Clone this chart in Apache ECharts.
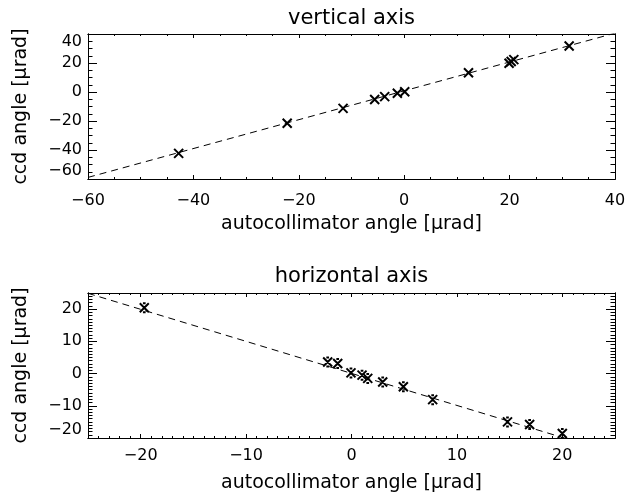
<!DOCTYPE html>
<html>
<head>
<meta charset="utf-8">
<script src="https://cdn.jsdelivr.net/npm/echarts@6/dist/echarts.min.js"></script>
<style>
html,body{margin:0;padding:0;background:#fff;}
#c{width:636px;height:496px;}
</style>
</head>
<body>
<div id="c"></div>
<script>
// ---- data ----
const topTitle = 'vertical axis';
const botTitle = 'horizontal axis';
const xName = 'autocollimator angle [\u03BCrad]';
const yName = 'ccd angle [\u03BCrad]';

const topX = [-42.8, -22.2, -11.6, -5.6, -3.7, -1.3, 0.1, 12.2, 19.9, 20.3, 20.8, 31.3];
const topY = [-42.3, -21.6, -11.3, -5.2, -3.2, -0.9, 0.2, 13.3, 19.8, 21.0, 22.3, 31.7];
const topFitX = [-60, 40];
const topFitY = [-58.9, 40.6];

const botX = [-19.66, -2.26, -1.31, -0.05, 1.0, 1.54, 2.96, 4.92, 7.7, 14.8, 16.9, 20.0];
const botY = [20.4, 3.6, 3.1, 0.2, -0.5, -1.5, -2.6, -4.1, -8.1, -15.0, -15.8, -18.6];
const botFitX = [-25, 25];
const botFitY = [24.9, -24.8];

const topXTicks = [-60, -40, -20, 0, 20, 40];
const topYTicks = [-60, -40, -20, 0, 20, 40];
const botXTicks = [-20, -10, 0, 10, 20];
const botYTicks = [-20, -10, 0, 10, 20];

// ---- layout ----
const FONT = 'DejaVu Sans';
const L = 88, W = 527, H = 145;
const TOP1 = 34, TOP2 = 293;

function pairs(xs, ys){ return xs.map((x,i)=>[x, ys[i]]); }
function fmt(v){ return v < 0 ? '\u2212' + (-v) : String(v); }

const grids = [
  {left:L, top:TOP1, width:W, height:H}, // 0 top major
  {left:L, top:TOP1, width:W, height:H}, // 1 top minor
  {left:L, top:TOP2, width:W, height:H}, // 2 bottom major
  {left:L, top:TOP2, width:W, height:H}  // 3 bottom minor
];

const lineCol = '#000';
function baseAxis(extra){
  return Object.assign({
    type:'value',
    axisLine:{show:true, onZero:false, lineStyle:{color:lineCol, width:1}},
    splitLine:{show:false},
    axisLabel:{show:false},
  }, extra);
}
const nameStyle = {color:'#000', fontFamily:FONT, fontSize:19};
const labStyle = {color:'#000', fontFamily:FONT, fontSize:16};

const xAxes = [];
const yAxes = [];
// top panel major
xAxes.push(baseAxis({gridIndex:0, position:'bottom', min:-60, max:40, interval:20,
  axisTick:{show:true, inside:true, length:4, lineStyle:{color:lineCol}},
  axisLabel:Object.assign({show:true, formatter:fmt, margin:14}, labStyle),
  name:xName, nameLocation:'middle', nameGap:36, nameTextStyle:nameStyle}));
xAxes.push(baseAxis({gridIndex:0, position:'top', min:-60, max:40, interval:20,
  axisTick:{show:true, inside:true, length:4, lineStyle:{color:lineCol}}}));
yAxes.push(baseAxis({gridIndex:0, position:'left', min:-60, max:40, interval:20,
  axisTick:{show:true, inside:true, length:9, lineStyle:{color:lineCol}},
  axisLabel:Object.assign({show:true, formatter:fmt, margin:6,
    verticalAlignMaxLabel:'top', verticalAlignMinLabel:'bottom'}, labStyle),
  name:yName, nameLocation:'middle', nameGap:57, nameTextStyle:nameStyle}));
yAxes.push(baseAxis({gridIndex:0, position:'right', min:-60, max:40, interval:20,
  axisTick:{show:true, inside:true, length:9, lineStyle:{color:lineCol}}}));
// top panel minor
xAxes.push(baseAxis({gridIndex:1, position:'bottom', min:-60, max:40, interval:5,
  axisTick:{show:true, inside:true, length:2, lineStyle:{color:lineCol}}}));
xAxes.push(baseAxis({gridIndex:1, position:'top', min:-60, max:40, interval:5,
  axisTick:{show:true, inside:true, length:2, lineStyle:{color:lineCol}}}));
yAxes.push(baseAxis({gridIndex:1, position:'left', min:-60, max:40, interval:5,
  axisTick:{show:true, inside:true, length:4.5, lineStyle:{color:lineCol}}}));
yAxes.push(baseAxis({gridIndex:1, position:'right', min:-60, max:40, interval:5,
  axisTick:{show:true, inside:true, length:4.5, lineStyle:{color:lineCol}}}));
// bottom panel major
xAxes.push(baseAxis({gridIndex:2, position:'bottom', min:-25, max:25, interval:5,
  axisTick:{show:true, inside:true, length:4, customValues:botXTicks, lineStyle:{color:lineCol}},
  axisLabel:Object.assign({show:true, formatter:fmt, customValues:botXTicks, margin:10}, labStyle),
  name:xName, nameLocation:'middle', nameGap:36, nameTextStyle:nameStyle}));
xAxes.push(baseAxis({gridIndex:2, position:'top', min:-25, max:25, interval:5,
  axisTick:{show:true, inside:true, length:4, customValues:botXTicks, lineStyle:{color:lineCol}}}));
yAxes.push(baseAxis({gridIndex:2, position:'left', min:-20, max:25, interval:5,
  axisTick:{show:true, inside:true, length:9, customValues:botYTicks, lineStyle:{color:lineCol}},
  axisLabel:Object.assign({show:true, formatter:fmt, customValues:botYTicks, margin:6,
    verticalAlignMinLabel:'bottom'}, labStyle),
  name:yName, nameLocation:'middle', nameGap:57, nameTextStyle:nameStyle}));
yAxes.push(baseAxis({gridIndex:2, position:'right', min:-20, max:25, interval:5,
  axisTick:{show:true, inside:true, length:9, customValues:botYTicks, lineStyle:{color:lineCol}}}));
// bottom panel minor
xAxes.push(baseAxis({gridIndex:3, position:'bottom', min:-25, max:25, interval:1,
  axisTick:{show:true, inside:true, length:2, lineStyle:{color:lineCol}}}));
xAxes.push(baseAxis({gridIndex:3, position:'top', min:-25, max:25, interval:1,
  axisTick:{show:true, inside:true, length:2, lineStyle:{color:lineCol}}}));
yAxes.push(baseAxis({gridIndex:3, position:'left', min:-20, max:25, interval:1,
  axisTick:{show:true, inside:true, length:4.5, lineStyle:{color:lineCol}}}));
yAxes.push(baseAxis({gridIndex:3, position:'right', min:-20, max:25, interval:1,
  axisTick:{show:true, inside:true, length:4.5, lineStyle:{color:lineCol}}}));

const xSym = 'path://M0,0L10,10M10,0L0,10';
const starSym = 'path://M0,0L10,10M10,0L0,10M3.5,0L6.5,0M3.5,10L6.5,10M5,3L5,7';

const option = {
  animation:false,
  backgroundColor:'#fff',
  grid:grids,
  xAxis:xAxes,
  yAxis:yAxes,
  graphic:[
    {type:'text', x:L + W/2, y:18.5, style:{text:topTitle, font:'21px "DejaVu Sans"', fill:'#000', align:'center', verticalAlign:'middle'}},
    {type:'text', x:L + W/2, y:277, style:{text:botTitle, font:'21px "DejaVu Sans"', fill:'#000', align:'center', verticalAlign:'middle'}}
  ],
  series:[
    {type:'line', xAxisIndex:0, yAxisIndex:0, data:pairs(topFitX, topFitY), showSymbol:false, clip:true,
      lineStyle:{color:'#000', width:1, type:[7,5]}, silent:true},
    {type:'scatter', xAxisIndex:0, yAxisIndex:0, data:pairs(topX, topY), symbol:xSym, symbolSize:9,
      itemStyle:{color:'rgba(0,0,0,0)', borderColor:'#000', borderWidth:2, opacity:1}},
    {type:'line', xAxisIndex:4, yAxisIndex:4, data:pairs(botFitX, botFitY), showSymbol:false, clip:true,
      lineStyle:{color:'#000', width:1, type:[7,5]}, silent:true},
    {type:'scatter', xAxisIndex:4, yAxisIndex:4, data:pairs(botX, botY), symbol:starSym, symbolSize:9,
      itemStyle:{color:'rgba(0,0,0,0)', borderColor:'#000', borderWidth:2, opacity:1}}
  ]
};
const chart = echarts.init(document.getElementById('c'), null, {renderer:'canvas'});
chart.setOption(option);
</script>
</body>
</html>
